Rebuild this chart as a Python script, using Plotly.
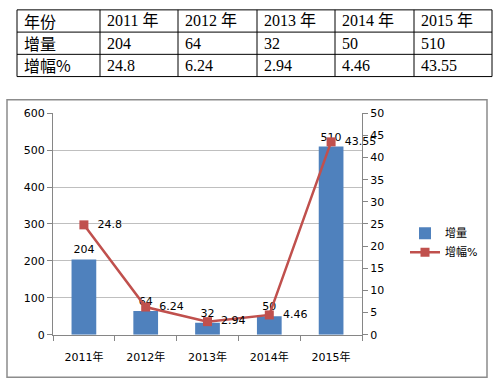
import plotly.graph_objects as go

categories = ["2011年", "2012年", "2013年", "2014年", "2015年"]
table_years = ["2011 年", "2012 年", "2013 年", "2014 年", "2015 年"]
increase = [204, 64, 32, 50, 510]
growth_pct = [24.8, 6.24, 2.94, 4.46, 43.55]
growth_txt = ["24.8", "6.24", "2.94", "4.46", "43.55"]
row_labels = ["年份", "增量", "增幅%"]

W, H = 499, 390
def px(x): return x / W
def py(y): return 1 - y / H

fig = go.Figure()
fig.add_trace(go.Bar(
    x=categories, y=increase, name="增量", width=0.4,
    marker=dict(color="#4F81BD", line=dict(width=0)),
    text=[str(v) for v in increase], textposition="outside",
    textfont=dict(size=11, color="#000000"), cliponaxis=False,
    yaxis="y"))
fig.add_trace(go.Scatter(
    x=categories, y=growth_pct, name="增幅%", mode="lines+markers+text",
    line=dict(color="#C0504D", width=2.5),
    marker=dict(symbol="square", size=9, color="#C0504D"),
    text=growth_txt, texttemplate="\u00a0\u00a0%{text}", textposition="middle right",
    textfont=dict(size=11, color="#000000"), cliponaxis=False,
    yaxis="y2"))

shapes = []
# chart border
shapes.append(dict(type="rect", xref="paper", yref="paper",
                   x0=px(7), x1=px(487), y0=py(384), y1=py(97),
                   line=dict(color="#8C8C8C", width=1.5)))
# table grid
col_x = [17, 100, 178, 257, 335, 414, 492]
row_y = [4, 27, 50, 73]
for x in col_x:
    shapes.append(dict(type="line", xref="paper", yref="paper",
                       x0=px(x), x1=px(x), y0=py(row_y[0]), y1=py(row_y[-1]),
                       line=dict(color="#000000", width=1)))
for y in row_y:
    shapes.append(dict(type="line", xref="paper", yref="paper",
                       x0=px(col_x[0]), x1=px(col_x[-1]), y0=py(y), y1=py(y),
                       line=dict(color="#000000", width=1)))

annotations = []
rows = [table_years, [str(v) for v in increase], growth_txt]
tfont = dict(family="Liberation Serif, Noto Sans CJK SC, serif", size=16, color="#000000")
for r in range(3):
    yc = (row_y[r] + row_y[r + 1]) / 2
    annotations.append(dict(xref="paper", yref="paper", x=px(col_x[0] + 5), y=py(yc),
                            text=row_labels[r], showarrow=False, xanchor="left",
                            yanchor="middle", font=dict(family="Noto Sans CJK SC", size=16, color="#000000")))
    for c in range(5):
        annotations.append(dict(xref="paper", yref="paper", x=px(col_x[c + 1] + 5), y=py(yc),
                                text=rows[r][c], showarrow=False, xanchor="left",
                                yanchor="middle", font=tfont))

fig.update_layout(
    width=W, height=H, margin=dict(l=0, r=0, t=0, b=0),
    paper_bgcolor="#FFFFFF", plot_bgcolor="#FFFFFF",
    font=dict(family="DejaVu Sans, Noto Sans CJK SC", size=11, color="#000000"),
    xaxis=dict(domain=[px(53), px(362)], range=[-0.5, 4.5], showline=True,
               linecolor="#868686", linewidth=1, ticks="outside", tickson="boundaries",
               ticklen=5, tickcolor="#868686", showgrid=False, ticklabelstandoff=12,
               tickfont=dict(size=11)),
    yaxis=dict(domain=[py(340), py(111)], range=[0, 600], dtick=100,
               showline=True, linecolor="#868686", ticks="outside", ticklen=5,
               tickcolor="#868686", showgrid=True, gridcolor="#BFBFBF", gridwidth=1,
               zeroline=False, tickfont=dict(size=11)),
    yaxis2=dict(overlaying="y", side="right", range=[0, 50], dtick=5,
                showline=True, linecolor="#868686", ticks="outside", ticklen=5,
                tickcolor="#868686", showgrid=False, zeroline=False,
                anchor="x", tickfont=dict(size=11)),
    legend=dict(x=px(405), y=py(220), xanchor="left", yanchor="top",
                bgcolor="rgba(0,0,0,0)", font=dict(size=11), tracegroupgap=4),
    showlegend=True,
    shapes=shapes, annotations=annotations,
)

fig.write_html("out.html", config={"displayModeBar": False},
               post_script="document.body.style.margin='0';document.body.style.overflow='hidden';")
